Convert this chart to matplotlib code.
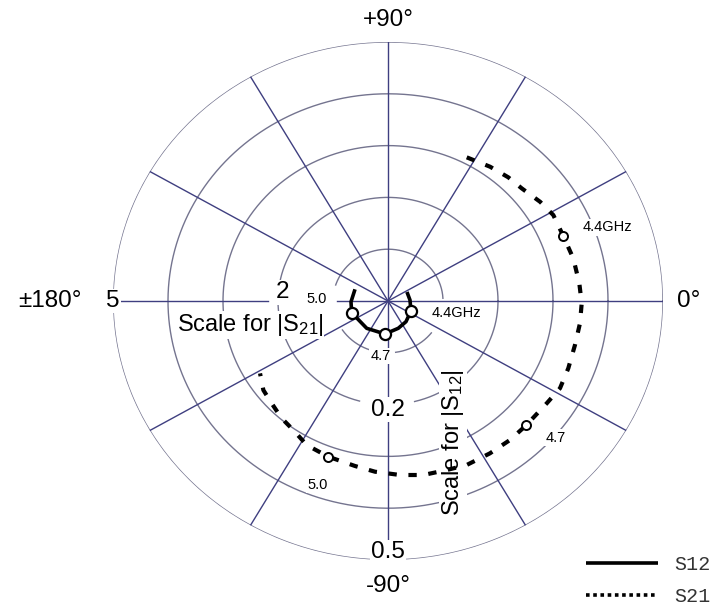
import numpy as np
import matplotlib
matplotlib.use("Agg")
import matplotlib.pyplot as plt
from matplotlib.lines import Line2D

plt.rcParams['font.family'] = ['Liberation Sans', 'DejaVu Sans']
plt.rcParams['mathtext.fontset'] = 'custom'
plt.rcParams['mathtext.rm'] = 'Liberation Sans'
plt.rcParams['mathtext.it'] = 'Liberation Sans:italic'

# === Data (angle in degrees, magnitude) ===
s21_ang = [62.7, 54.4, 47.5, 41.8, 34.7, 28.9, 21.5, 13.7, 5.6, -0.7, -7.0, -14.0,
           -21.6, -28.3, -34.4, -43.6, -50.4, -57.8, -65.7, -71.9, -79.2, -86.3,
           -94.1, -100.7, -109.9, -118.0, -124.7, -130.5, -137.0, -142.8, -149.0]
s21_mag = [3.121, 3.188, 3.238, 3.262, 3.364, 3.433, 3.425, 3.468, 3.495, 3.522, 3.517, 3.504,
           3.526, 3.552, 3.497, 3.474, 3.481, 3.476, 3.474, 3.433, 3.420, 3.366,
           3.304, 3.241, 3.196, 3.149, 3.028, 2.977, 2.894, 2.845, 2.714]
s21_mark_ang = [21.5, -43.6, -109.9]
s21_mark_mag = [3.425, 3.474, 3.196]

s12_ang = [26.8, 2.7, -24.8, -50.7, -70.5, -94.9, -126.3, -161.1, -178.6, 159.4]
s12_mag = [0.0386, 0.0400, 0.0460, 0.0516, 0.0559, 0.0639, 0.0654, 0.0698, 0.0673, 0.0641]
s12_mark_ang = [-24.8, -94.9, -161.1]
s12_mark_mag = [0.0460, 0.0639, 0.0698]

freq_labels = ['4.4GHz', '4.7', '5.0']

# ring values for S21 scale, S12 scale is one tenth of it
rings = [1, 2, 3, 4, 5]
spokes = np.arange(0, 360, 30)
s12_to_ring = 10.0

# breaks in the grid circles (degrees), where the original leaves them open
ring_gaps = {1: [(162, 214), (-105, -82), (-38, 3)],
             2: [(-105, -76)]}

RING_C = '#74748f'
SPOKE_C = '#3f3f80'
box = dict(facecolor='white', edgecolor='none', pad=1.0)

fig = plt.figure(figsize=(7.26, 6.10), dpi=100)
ax = fig.add_axes([0.15565, 0.08197, 0.75758, 0.84918], projection='polar')
ax.set_aspect('auto')
ax.set_ylim(0, 5)
ax.grid(False)
ax.set_xticks([])
ax.set_yticks([])
ax.spines['polar'].set_visible(False)
ax.patch.set_visible(False)

# === Grid ===
deg = np.linspace(0, 360, 1441)
for r in rings:
    rr = np.full_like(deg, float(r))
    for g0, g1 in ring_gaps.get(r, []):
        a0, a1 = g0 % 360, g1 % 360
        if a0 < a1:
            rr[(deg > a0) & (deg < a1)] = np.nan
        else:
            rr[(deg > a0) | (deg < a1)] = np.nan
    ax.plot(np.deg2rad(deg), rr, color=RING_C, lw=1.0, zorder=2)
for a in spokes:
    if a == 180:
        # left axis is open between the "2" and the inner "5.0"
        ax.plot([np.pi] * 2, [0, 0.93], color=SPOKE_C, lw=1.0, zorder=2)
        ax.plot([np.pi] * 2, [2.18, 5], color=SPOKE_C, lw=1.0, zorder=2)
    else:
        ax.plot([np.deg2rad(a)] * 2, [0, 5], color=SPOKE_C, lw=1.0, zorder=2)

# === Curves ===
ax.plot(np.deg2rad(s12_ang), np.array(s12_mag) * s12_to_ring, color='black', lw=2.6,
        solid_capstyle='butt', zorder=6)
ax.plot(np.deg2rad(s12_mark_ang), np.array(s12_mark_mag) * s12_to_ring, 'o', ms=8,
        mfc='white', mec='black', mew=1.6, zorder=7)

ax.plot(np.deg2rad(s21_ang), s21_mag, color='black', lw=3.0, dashes=(2.0, 2.8),
        dash_capstyle='butt', zorder=6)
ax.plot(np.deg2rad(s21_mark_ang), s21_mark_mag, 'o', ms=6.5,
        mfc='white', mec='black', mew=1.4, zorder=7)

# === Labels ===
big = 17.5
ax.text(np.deg2rad(90), 5.42, '+90°', ha='center', va='center', fontsize=big)
ax.text(np.deg2rad(-90), 5.5, '-90°', ha='center', va='center', fontsize=big)
ax.text(0, 5.46, '0°', ha='center', va='center', fontsize=big)
ax.text(np.pi, 6.15, '±180°', ha='center', va='center', fontsize=big)

ax.text(np.pi, 5.0, '5', ha='center', va='center', fontsize=big, bbox=box, zorder=4)
ax.text(np.deg2rad(175), 1.92, '2', ha='center', va='center', fontsize=big, bbox=box, zorder=4)
ax.text(np.deg2rad(-90), 2.1, '0.2', ha='center', va='center', fontsize=big, bbox=box, zorder=4)
ax.text(np.deg2rad(-90), 4.85, '0.5', ha='center', va='center', fontsize=big, bbox=box, zorder=4)

tbox = dict(facecolor='white', edgecolor='none', pad=0.5)
ax.text(np.deg2rad(-169.6), 2.55, 'Scale for |S$_{21}$|', ha='center', va='center',
        fontsize=17, bbox=tbox, zorder=4)
ax.text(np.deg2rad(-66.7), 2.985, 'Scale for |S$_{12}$|', ha='center', va='center',
        rotation=90, fontsize=17, bbox=tbox, zorder=4)

small = 10.5
# inner (S12) frequency labels
ax.text(np.deg2rad(-10.3), 1.27, freq_labels[0], ha='center', va='center', fontsize=small, bbox=box, zorder=4)
ax.text(np.deg2rad(-97), 1.07, freq_labels[1], ha='center', va='center', fontsize=small, bbox=box, zorder=4)
ax.text(np.deg2rad(178), 1.30, freq_labels[2], ha='center', va='center', fontsize=small, bbox=box, zorder=4)
# outer (S21) frequency labels
ax.text(np.deg2rad(19.6), 4.24, freq_labels[0], ha='center', va='center', fontsize=small, bbox=box, zorder=4)
ax.text(np.deg2rad(-41), 4.03, freq_labels[1], ha='center', va='center', fontsize=small, bbox=box, zorder=4)
ax.text(np.deg2rad(-109.9), 3.77, freq_labels[2], ha='center', va='center', fontsize=small, bbox=box, zorder=4)

# === Legend ===
handles = [Line2D([], [], color='black', lw=2.6, solid_capstyle='butt'),
           Line2D([], [], color='black', lw=2.6, dashes=(1.0, 1.0), dash_capstyle='butt')]
fig.legend(handles, ['S12', 'S21'], loc='lower right', bbox_to_anchor=(0.99, -0.006),
           frameon=False, handlelength=3.6, handletextpad=0.8, labelspacing=0.62,
           borderaxespad=0.0, prop={'family': 'Liberation Mono', 'size': 14.5},
           labelcolor='#333333')

fig.savefig('out.png', dpi=100)
